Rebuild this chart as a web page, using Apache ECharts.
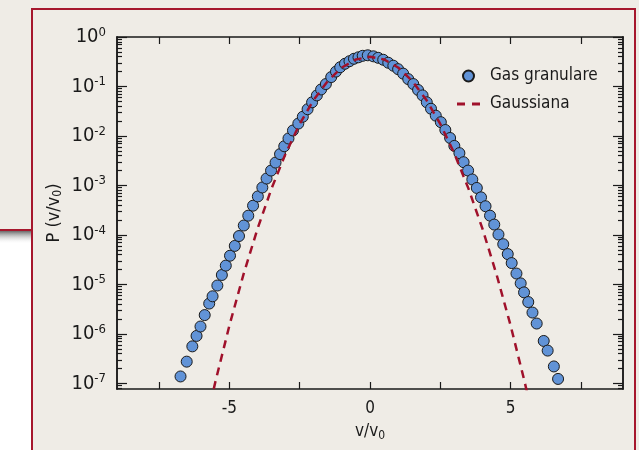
<!DOCTYPE html>
<html>
<head>
<meta charset="utf-8">
<script src="https://cdn.jsdelivr.net/npm/echarts@6/dist/echarts.min.js"></script>
<style>
  html, body { margin: 0; padding: 0; background: #efece6; }
  #chart { width: 639px; height: 450px; }
</style>
</head>
<body>
<div id="chart"></div>
<script>
// ---- Data ----
const vGas = [-6.74, -6.52, -6.32, -6.17, -6.03, -5.88, -5.72, -5.60, -5.43, -5.27, -5.13, -4.98, -4.81, -4.66, -4.49, -4.33, -4.16,
  -3.99, -3.83, -3.68, -3.52, -3.36, -3.20, -3.05, -2.90, -2.74, -2.55, -2.39, -2.22, -2.06, -1.89, -1.74, -1.57, -1.38, -1.21,
  -1.06, -0.89, -0.73, -0.57, -0.41, -0.26, -0.08, 0.12, 0.29, 0.47, 0.65, 0.83, 1.00, 1.18, 1.36, 1.54, 1.71, 1.87, 2.02, 2.17,
  2.34, 2.52, 2.68, 2.85, 3.00, 3.18, 3.33, 3.49, 3.64, 3.80, 3.95, 4.11, 4.27, 4.42, 4.57, 4.74, 4.90, 5.04, 5.21, 5.36, 5.48,
  5.63, 5.78, 5.93, 6.18, 6.32, 6.54, 6.69];
const pGas = [1.38e-7, 2.75e-7, 5.6e-7, 9.1e-7, 1.41e-6, 2.4e-6, 4.1e-6, 5.75e-6, 9.5e-6, 1.55e-5, 2.4e-5, 3.8e-5, 6.0e-5, 9.5e-5, 1.55e-4, 2.45e-4, 3.9e-4,
  6.0e-4, 9.1e-4, 1.38e-3, 2.0e-3, 2.9e-3, 4.3e-3, 6.2e-3, 8.9e-3, 0.0129, 0.0178, 0.0245, 0.0347, 0.0479, 0.066, 0.087, 0.112, 0.155, 0.20,
  0.245, 0.288, 0.324, 0.363, 0.389, 0.417, 0.427, 0.407, 0.38, 0.347, 0.302, 0.263, 0.224, 0.182, 0.141, 0.112, 0.085, 0.066, 0.0479, 0.0355,
  0.0257, 0.019, 0.0132, 9.1e-3, 6.3e-3, 4.5e-3, 2.95e-3, 2.0e-3, 1.32e-3, 8.9e-4, 5.75e-4, 3.8e-4, 2.45e-4, 1.62e-4, 1.02e-4, 6.5e-5, 4.1e-5, 2.7e-5, 1.66e-5, 1.05e-5, 6.9e-6,
  4.4e-6, 2.7e-6, 1.62e-6, 7.2e-7, 4.6e-7, 2.2e-7, 1.23e-7];

const vGauss = [-6.0, -5.5, -5.0, -4.5, -4.0, -3.5, -3.0, -2.5, -2.0, -1.5, -1.0, -0.5, 0.0, 0.5, 1.0, 1.5, 2.0, 2.5, 3.0, 3.5, 4.0, 4.5, 5.0, 5.5, 6.0];
const pGauss = [6.1e-9, 1.08e-7, 1.49e-6, 1.60e-5, 1.34e-4, 8.73e-4, 4.43e-3, 0.0175, 0.054, 0.1295, 0.242, 0.352, 0.399, 0.352, 0.242, 0.1295, 0.054, 0.0175, 4.43e-3, 8.73e-4, 1.34e-4, 1.60e-5, 1.49e-6, 1.08e-7, 6.1e-9];

const seriesNames = ['Gas granulare', 'Gaussiana'];
const xTickValues = [-7.5, -5, -2.5, 0, 2.5, 5, 7.5];
const xLabelValues = [-5, 0, 5];
const yDecadeExponents = [-7, -6, -5, -4, -3, -2, -1, 0];
const yMinorMultipliers = [2, 3, 4, 5, 6, 7, 8, 9];

// ---- Axis extents ----
const xMin = -9, xMax = 9;
const yMin = 7.7e-8, yMax = 1;
const logMin = Math.log10(yMin), logMax = Math.log10(yMax);

const minorTicks = [];
for (let e = -8; e < 0; e++) {
  yMinorMultipliers.forEach(k => {
    const v = Math.log10(k) + e;
    if (v >= logMin && v <= logMax) minorTicks.push(v);
  });
}

const FONT = '"Liberation Sans Narrow", "DejaVu Sans Condensed", "Roboto", sans-serif';
const RED = '#a6172d';
const INK = '#1a1a1a';

const chart = echarts.init(document.getElementById('chart'), null, { renderer: 'canvas' });

const tickAxisBase = (position, values, len, showLabels) => ({
  type: 'value', gridIndex: 0, position: position,
  min: logMin, max: logMax,
  axisLine: { show: true, onZero: false, lineStyle: { color: INK, width: 1.5 } },
  axisTick: { show: true, inside: true, length: len, customValues: values, lineStyle: { color: INK, width: 1.2 } },
  axisLabel: showLabels ? {
    show: true, customValues: yDecadeExponents, margin: 11,
    formatter: v => '{b|10}{s|' + Math.round(v) + '}',
    rich: {
      b: { fontFamily: FONT, fontSize: 20, color: INK, lineHeight: 22 },
      s: { fontFamily: FONT, fontSize: 13, color: INK, lineHeight: 14, verticalAlign: 'top' }
    }
  } : { show: false },
  splitLine: { show: false }
});

const option = {
  backgroundColor: '#efece6',
  animation: false,
  graphic: [
    { type: 'rect', shape: { x: 0, y: 231, width: 31, height: 219 }, style: { fill: '#ffffff' }, z: -10 },
    { type: 'rect', shape: { x: 0, y: 231, width: 31, height: 13 },
      style: { fill: new echarts.graphic.LinearGradient(0, 0, 0, 1, [
        { offset: 0, color: 'rgba(90,90,90,0.9)' }, { offset: 1, color: 'rgba(255,255,255,0)' }]) }, z: -9 },
    { type: 'rect', shape: { x: 0, y: 229, width: 32, height: 2 }, style: { fill: RED }, z: -8 },
    { type: 'rect', shape: { x: 32, y: 9, width: 603, height: 470 }, style: { fill: null, stroke: RED, lineWidth: 2 }, z: -7 }
  ],
  grid: { left: 117, right: 16, top: 37, bottom: 61, containLabel: false },
  legend: {
    orient: 'vertical', left: 457, top: 67, padding: 0,
    itemWidth: 23, itemHeight: 11, itemGap: 10,
    data: [
      { name: seriesNames[0], icon: 'circle' },
      { name: seriesNames[1],
        icon: 'path://M0,0L23,0M0,11L23,11M0,4L8,4L8,7L0,7ZM15,4L23,4L23,7L15,7Z',
        itemStyle: { color: '#a0112b', borderWidth: 0 } }
    ],
    textStyle: { fontFamily: FONT, fontSize: 17, color: INK, lineHeight: 18, padding: [0, 0, 0, 5] }
  },
  xAxis: [
    {
      type: 'value', position: 'bottom', min: xMin, max: xMax,
      name: '{a|v/v}{s|0}', nameLocation: 'middle', nameGap: 33,
      nameTextStyle: { rich: {
        a: { fontFamily: FONT, fontSize: 17, color: INK, lineHeight: 20 },
        s: { fontFamily: FONT, fontSize: 12, color: INK, lineHeight: 12, verticalAlign: 'bottom' } } },
      axisLine: { show: true, onZero: false, lineStyle: { color: INK, width: 1.5 } },
      axisTick: { show: true, inside: true, length: 7, customValues: xTickValues, lineStyle: { color: INK, width: 1.2 } },
      axisLabel: { show: true, customValues: xLabelValues, margin: 11, fontFamily: FONT, fontSize: 17, color: INK },
      splitLine: { show: false }
    },
    {
      type: 'value', position: 'top', min: xMin, max: xMax,
      axisLine: { show: true, onZero: false, lineStyle: { color: INK, width: 1.5 } },
      axisTick: { show: true, inside: true, length: 7, customValues: xTickValues, lineStyle: { color: INK, width: 1.2 } },
      axisLabel: { show: false },
      splitLine: { show: false }
    }
  ],
  yAxis: [
    {
      type: 'log', min: yMin, max: yMax, position: 'left',
      axisLine: { show: false, onZero: false }, axisTick: { show: false }, axisLabel: { show: false }, splitLine: { show: false },
      name: '{a|P (v/v}{s|0}{a|)}', nameLocation: 'middle', nameGap: 53, nameRotate: 90,
      nameTextStyle: { rich: {
        a: { fontFamily: FONT, fontSize: 18, color: INK, lineHeight: 20 },
        s: { fontFamily: FONT, fontSize: 12, color: INK, lineHeight: 12, verticalAlign: 'bottom' } } }
    },
    tickAxisBase('left', yDecadeExponents, 10, true),
    tickAxisBase('left', minorTicks, 5, false),
    tickAxisBase('right', yDecadeExponents, 10, false),
    tickAxisBase('right', minorTicks, 5, false)
  ],
  series: [
    {
      name: seriesNames[0], type: 'scatter', xAxisIndex: 0, yAxisIndex: 0,
      symbol: 'circle', symbolSize: 11,
      itemStyle: { color: '#6193d7', borderColor: INK, borderWidth: 1, opacity: 1 },
      data: vGas.map((v, i) => [v, pGas[i]]),
      z: 3
    },
    {
      name: seriesNames[1], type: 'line', xAxisIndex: 0, yAxisIndex: 0,
      symbol: 'none', smooth: false, clip: true,
      lineStyle: { color: '#a0112b', width: 2.5, type: [8, 6] },
      itemStyle: { color: '#a0112b' },
      data: vGauss.map((v, i) => [v, pGauss[i]]),
      z: 4
    }
  ]
};

chart.setOption(option);
</script>
</body>
</html>
